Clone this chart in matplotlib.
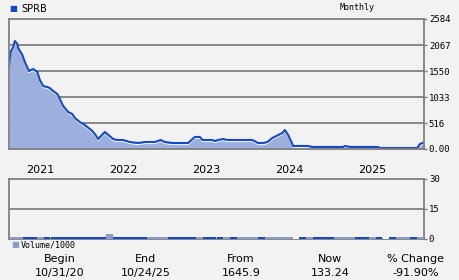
import matplotlib
matplotlib.use("Agg")
import matplotlib.pyplot as plt
import matplotlib.transforms as mtransforms

# weekly-ish closes (decimal year, price)
years = [2020.83, 2020.84, 2020.85, 2020.88, 2020.90, 2020.93, 2020.94, 2020.99,
         2021.02, 2021.07, 2021.12, 2021.17, 2021.20, 2021.24, 2021.29, 2021.32,
         2021.36, 2021.41, 2021.44, 2021.48, 2021.54, 2021.59, 2021.62, 2021.68,
         2021.74, 2021.77, 2021.83, 2021.86, 2021.90, 2021.98, 2022.08, 2022.13,
         2022.20, 2022.28, 2022.38, 2022.46, 2022.58, 2022.65, 2022.70, 2022.79,
         2022.98, 2023.06, 2023.12, 2023.15, 2023.27, 2023.30, 2023.34, 2023.40,
         2023.45, 2023.75, 2023.82, 2023.88, 2023.93, 2023.99, 2024.06, 2024.11,
         2024.14, 2024.18, 2024.24, 2024.42, 2024.47, 2024.84, 2024.86, 2024.93,
         2025.26, 2025.28, 2025.73, 2025.76, 2025.81]
prices = [1646, 1809, 1928, 2027, 2147, 2087, 2008, 1868,
          1729, 1550, 1590, 1531, 1372, 1252, 1232, 1212,
          1153, 1093, 994, 855, 735, 696, 616, 537,
          477, 437, 358, 298, 199, 338, 199, 179,
          179, 139, 119, 139, 139, 179, 139, 119,
          119, 239, 239, 179, 179, 159, 179, 199,
          179, 179, 119, 119, 139, 219, 278, 318,
          378, 278, 60, 60, 40, 40, 60, 40,
          40, 20, 20, 99, 133]

# monthly volume (thousands); flag: 'd' dark, 'l' light, 'w' blank
volume = [0.9] * 60
volume[14] = 2.5
volume[27] = 1.2
vol_flag = ("llddl" + "d" * 9 + "l" + "ddddd" + "lll" + "dddd" + "l" + "ddd"
            + "ldllld" + "llllw" + "dldddllldd" + "ldwdlldl")

price_ticks = [0, 516, 1033, 1550, 2067, 2584]
price_labels = ["0.00", "516", "1033", "1550", "2067", "2584"]
vol_ticks = [0, 15, 30]
year_labels = ["2021", "2022", "2023", "2024", "2025"]

summary_heads = ["Begin", "End", "From", "Now", "% Change"]
summary_vals = ["10/31/20", "10/24/25", "1645.9", "133.24", "-91.90%"]

BG = "#f2f2f2"
GRID = "#808080"
LINE = "#1449c8"
FILL = "#9cb0dd"
VOL_COL = {"d": "#1449c8", "l": "#8a9acb", "w": "#ffffff"}
X0, X1 = 2020.83, 2025.81

fig = plt.figure(figsize=(4.6, 2.8), dpi=100, facecolor=BG)
ax = fig.add_axes([9 / 460, 131 / 280, 415 / 460, 130 / 280], facecolor=BG)
axv = fig.add_axes([9 / 460, 41 / 280, 415 / 460, 60 / 280], facecolor=BG)

# price panel
ax.fill_between(years, prices, 0, color=FILL, lw=0)
shift = mtransforms.offset_copy(ax.transData, fig=fig, x=0, y=-1.6, units="dots")
ax.plot(years, prices, color="white", lw=0.7, transform=shift)
ax.plot(years, prices, color=LINE, lw=1.5)
ax.set_xlim(X0, X1)
ax.set_ylim(0, 2584)
for t in price_ticks[1:-1]:
    ax.axhline(t, color=GRID, lw=1.3, zorder=0)

# volume panel
width = (X1 - X0) / 60
vx = [X0 + (i + 0.5) * width for i in range(60)]
axv.bar(vx, volume, width=width, color=[VOL_COL[c] for c in vol_flag], lw=0,
        zorder=3)
axv.set_xlim(X0, X1)
axv.set_ylim(0, 30)
axv.axhline(15, color=GRID, lw=1.3, zorder=0)

for a, ticks, labels in ((ax, price_ticks, price_labels),
                         (axv, vol_ticks, [str(v) for v in vol_ticks])):
    for s in a.spines.values():
        s.set_color(GRID)
        s.set_linewidth(1.3)
    a.set_xticks([])
    a.yaxis.tick_right()
    a.set_yticks(ticks)
    a.set_yticklabels(labels, family="DejaVu Sans Mono", fontsize=6.5)
    a.tick_params(axis="y", length=2, width=1, color=GRID, pad=1.5)

# year labels under the price panel
for i, lab in enumerate(year_labels):
    fig.text((40 + i * 83) / 460, 1 - 170 / 280, lab, ha="center", va="center",
             fontsize=8)

fig.text(13 / 460, 1 - 9 / 280, "\u25a0", color=LINE, fontsize=6, va="center", ha="center")
fig.text(21 / 460, 1 - 9 / 280, "SPRB", fontsize=7, va="center")
fig.text(357 / 460, 1 - 8 / 280, "Monthly", fontsize=6, family="DejaVu Sans Mono",
         va="center", ha="center")

fig.text(15 / 460, 1 - 245 / 280, "\u25a0", color="#8a9acb", fontsize=6, va="center",
         ha="center")
fig.text(21 / 460, 1 - 245 / 280, "Volume/1000", fontsize=6, family="DejaVu Sans Mono",
         va="center")

centers = [60, 146, 241, 330, 416]
for cx, head, val in zip(centers, summary_heads, summary_vals):
    fig.text(cx / 460, 1 - 259 / 280, head, ha="center", va="center", fontsize=8)
    fig.text(cx / 460, 1 - 273 / 280, val, ha="center", va="center", fontsize=8)

fig.savefig("out.png", dpi=100, facecolor=BG)
